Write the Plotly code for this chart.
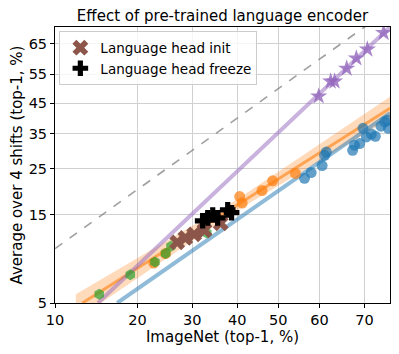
import numpy as np
import plotly.graph_objects as go

# values in percent (top-1 accuracy)
blue_x = [56.4, 58.0, 60.6, 61.2, 61.6, 67.5, 67.9, 69.0, 69.7, 70.4, 71.4, 72.2, 73.3, 74.0, 74.5, 74.7]
blue_y = [22.6, 24.0, 25.8, 28.6, 29.5, 30.0, 31.5, 32.0, 36.7, 34.0, 34.9, 34.2, 37.4, 38.8, 39.3, 36.7]

orange_x = [22.7, 24.8, 40.6, 41.2, 46.0, 48.6, 54.2]
orange_y = [8.35, 9.4, 18.5, 17.2, 19.8, 22.0, 23.8]

green_x = [14.65, 18.9, 22.9, 24.8, 25.8, 33.1]
green_y = [5.6, 7.2, 8.45, 9.4, 10.3, 12.1]

star_x = [59.8, 62.6, 63.5, 66.2, 68.3, 70.6, 73.8]
star_y = [47.4, 52.5, 52.5, 56.9, 60.3, 63.2, 68.3]

init_x = [27.0, 28.6, 30.4, 32.6, 36.2]
init_y = [10.8, 11.4, 11.9, 12.5, 13.6]

freeze_x = [32.2, 33.3, 34.4, 35.5, 37.8, 38.7]
freeze_y = [14.0, 14.5, 15.0, 14.5, 15.9, 15.4]

# linear fits (in logit space), given by their end values
blue_fit_x = [17.0, 75]
blue_fit_y = [5, 41.7]
orange_fit_x = [12.7, 75]
orange_fit_y = [5, 43.3]
purple_fit_x = [14.5, 75]
purple_fit_y = [5, 70]
band_x = [12, 40, 75]
band_lo = [4.0, 15.8, 39.8]
band_hi = [5.6, 17.9, 47.2]
diag = [10, 75]

x_ticks = [10, 20, 30, 40, 50, 60, 70]
y_ticks = [5, 15, 25, 35, 45, 55, 65]


def lg(v):
    p = np.asarray(v, dtype=float) / 100.0
    return np.log(p / (1 - p))


fig = go.Figure()

fig.add_trace(go.Scatter(x=lg(diag), y=lg(diag), mode="lines",
                         line=dict(color="rgba(128,128,128,0.75)", width=1.6, dash="dash"),
                         showlegend=False))
fig.add_trace(go.Scatter(x=lg(band_x), y=lg(band_lo), mode="lines",
                         line=dict(width=0), showlegend=False))
fig.add_trace(go.Scatter(x=lg(band_x), y=lg(band_hi), mode="lines", fill="tonexty",
                         fillcolor="rgba(255,127,14,0.28)", line=dict(width=0),
                         showlegend=False))
fig.add_trace(go.Scatter(x=lg(blue_fit_x), y=lg(blue_fit_y), mode="lines",
                         line=dict(color="rgba(31,119,180,0.5)", width=4), showlegend=False))
fig.add_trace(go.Scatter(x=lg(orange_fit_x), y=lg(orange_fit_y), mode="lines",
                         line=dict(color="rgba(255,127,14,0.6)", width=3), showlegend=False))
fig.add_trace(go.Scatter(x=lg(purple_fit_x), y=lg(purple_fit_y), mode="lines",
                         line=dict(color="rgba(148,103,189,0.5)", width=4), showlegend=False))

fig.add_trace(go.Scatter(x=lg(blue_x), y=lg(blue_y), mode="markers",
                         marker=dict(symbol="circle", size=11, color="#1f77b4", opacity=0.7),
                         showlegend=False))
fig.add_trace(go.Scatter(x=lg(orange_x), y=lg(orange_y), mode="markers",
                         marker=dict(symbol="circle", size=11, color="#ff7f0e", opacity=0.7),
                         showlegend=False))
fig.add_trace(go.Scatter(x=lg(green_x), y=lg(green_y), mode="markers",
                         marker=dict(symbol="hexagon", size=11, color="#2ca02c", opacity=0.7),
                         showlegend=False))
fig.add_trace(go.Scatter(x=lg(star_x), y=lg(star_y), mode="markers",
                         marker=dict(symbol="star", size=13, color="#9467bd", opacity=0.8),
                         showlegend=False))
fig.add_trace(go.Scatter(x=lg(init_x), y=lg(init_y), mode="markers", name="Language head init",
                         marker=dict(symbol="x", size=14, color="#8c564b", line=dict(width=0))))
fig.add_trace(go.Scatter(x=lg(freeze_x), y=lg(freeze_y), mode="markers", name="Language head freeze",
                         marker=dict(symbol="cross", size=13, color="black", line=dict(width=0))))

axis_style = dict(showline=True, mirror=True, linecolor="black", linewidth=1,
                  showgrid=True, gridcolor="#d0d0d0", gridwidth=1, zeroline=False,
                  ticks="outside", ticklen=4, tickcolor="black", automargin=False,
                  tickfont=dict(size=14.5, color="black"))

fig.update_xaxes(range=[lg(10)[()], lg(75)[()]], tickvals=lg(x_ticks),
                 ticktext=[str(t) for t in x_ticks],
                 title=dict(text="ImageNet (top-1, %)", font=dict(size=15, color="black"), standoff=5),
                 **axis_style)
fig.update_yaxes(range=[lg(5)[()], lg(70)[()]], tickvals=lg(y_ticks),
                 ticktext=[str(t) for t in y_ticks],
                 title=dict(text="Average over 4 shifts (top-1, %)", font=dict(size=15, color="black"), standoff=4),
                 **axis_style)

# the page body adds an 8px margin, so the figure is a bit smaller than the window
fig.update_layout(
    width=383, height=338,
    margin=dict(l=47, r=1, t=19, b=43, autoexpand=False),
    plot_bgcolor="white", paper_bgcolor="white",
    font=dict(family="DejaVu Sans", size=14, color="black"),
    title=dict(text="Effect of pre-trained language encoder", x=0.5, xref="paper",
               y=0.978, yref="container", yanchor="middle", font=dict(size=15), automargin=False),
    legend=dict(x=0.013, y=0.984, xanchor="left", yanchor="top", traceorder="normal",
                bgcolor="rgba(255,255,255,0.8)", bordercolor="#cccccc", borderwidth=1,
                font=dict(size=13.5)),
)

fig.write_html("out.html")
